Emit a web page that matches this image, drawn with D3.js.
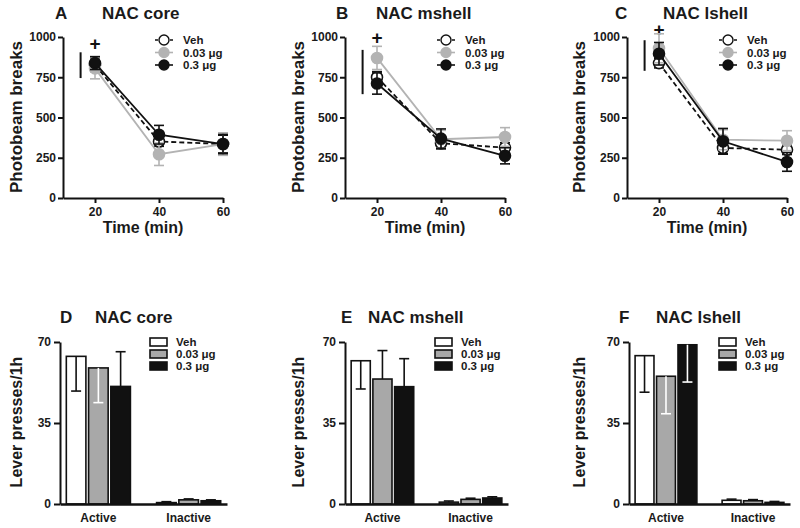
<!DOCTYPE html>
<html><head><meta charset="utf-8">
<script src="https://cdn.jsdelivr.net/npm/d3@7"></script>
<style>
body{margin:0;background:#fff}
text{font-family:"Liberation Sans",Arial,Helvetica,sans-serif;font-weight:bold;fill:#1a1a1a}
</style>
</head><body>
<svg id="c" width="800" height="528"></svg>
<script>
// ---------- data ----------
const doses = ["Veh", "0.03 \u03bcg", "0.3 \u03bcg"];
const times = [20, 40, 60];
const beamTicks = [0, 250, 500, 750, 1000];
const pressTicks = [0, 35, 70];
const leverCats = ["Active", "Inactive"];
const regions = ["NAC core", "NAC mshell", "NAC lshell"];
const topLetters = ["A", "B", "C"];
const bottomLetters = ["D", "E", "F"];

// photobeam breaks, rows = Veh, 0.03, 0.3 ; columns = 20, 40, 60 min
const coreBeam      = [[826, 351, 335], [805, 272, 335], [838, 393, 335]];
const coreBeamSem   = [[40, 30, 55], [65, 70, 70], [40, 58, 60]];
const mshellBeam    = [[750, 340, 313], [870, 365, 379], [711, 369, 262]];
const mshellBeamSem = [[35, 35, 30], [72, 55, 58], [66, 60, 50]];
const lshellBeam    = [[838, 311, 300], [930, 362, 356], [896, 352, 224]];
const lshellBeamSem = [[30, 35, 30], [90, 62, 62], [70, 80, 58]];

// significance marks (vertical bar span and "+" level, in photobeam units)
const sigSpan = [[745, 905], [645, 920], [790, 980]];
const plusLevel = [960, 1000, 1045];

// lever presses/1h, rows = Active, Inactive ; columns = Veh, 0.03, 0.3
const corePress      = [[63.8, 58.8, 50.8], [0.6, 1.8, 1.4]];
const corePressSem   = [[15, 15, 15], [0.4, 0.4, 0.4]];
const corePressDir   = [[-1, -1, 1], [1, 1, 1]];
const mshellPress    = [[61.9, 54.0, 50.7], [0.8, 2.0, 2.6]];
const mshellPressSem = [[12.2, 12.3, 12.1], [0.5, 0.5, 0.5]];
const mshellPressDir = [[-1, 1, 1], [1, 1, 1]];
const lshellPress    = [[64.1, 55.2, 68.8], [1.6, 1.4, 0.7]];
const lshellPressSem = [[15.8, 16.2, 16.1], [0.5, 0.5, 0.4]];
const lshellPressDir = [[-1, -1, -1], [1, 1, 1]];

const beamData = [coreBeam, mshellBeam, lshellBeam];
const beamSem = [coreBeamSem, mshellBeamSem, lshellBeamSem];
const pressData = [corePress, mshellPress, lshellPress];
const pressSem = [corePressSem, mshellPressSem, lshellPressSem];
const pressDir = [corePressDir, mshellPressDir, lshellPressDir];

// ---------- styles ----------
const lineColor = ["#111", "#b3b3b3", "#111"];
const markFill = ["#fff", "#b3b3b3", "#111"];
const barFill = ["#fff", "#a8a8a8", "#111"];

const svg = d3.select("#c");

function styleAxis(a, w) {
  a.selectAll("path.domain").attr("stroke", "#111").attr("stroke-width", w);
  a.selectAll(".tick line").attr("stroke", "#111").attr("stroke-width", w);
  a.selectAll(".tick text").style("font-size", "12px").style("font-family", '"Liberation Sans",Arial,sans-serif')
    .style("font-weight", "bold").attr("fill", "#1a1a1a");
}

// ---------- top row: line charts ----------
const topLayout = [
  {x0: 63, letterX: 55, titleX: 102, yLab: 16},
  {x0: 345, letterX: 336, titleX: 376, yLab: 298},
  {x0: 627, letterX: 615, titleX: 663, yLab: 579}
];

topLayout.forEach((L, p) => {
  const g = svg.append("g");
  const x = d3.scaleLinear().domain([10, 60]).range([L.x0, L.x0 + 160]);
  const y = d3.scaleLinear().domain([0, 1000]).range([198, 37]);

  const ya = g.append("g").attr("transform", `translate(${L.x0},0)`)
    .call(d3.axisLeft(y).tickValues(beamTicks).tickFormat(d3.format("d")).tickSize(5).tickSizeOuter(0).tickPadding(2));
  styleAxis(ya, 2);
  const xa = g.append("g").attr("transform", `translate(0,198)`)
    .call(d3.axisBottom(x).tickValues(times).tickSize(5).tickSizeOuter(0).tickPadding(4));
  styleAxis(xa, 2);

  // titles
  g.append("text").attr("x", L.letterX).attr("y", 19).style("font-size", "17px").text(topLetters[p]);
  g.append("text").attr("x", L.titleX).attr("y", 19).style("font-size", "17px").text(regions[p]);
  g.append("text").attr("transform", `translate(${L.yLab + 6},${117}) rotate(-90)`)
    .attr("text-anchor", "middle").style("font-size", "17px").text("Photobeam breaks");
  g.append("text").attr("x", L.x0 + 80).attr("y", 233).attr("text-anchor", "middle")
    .style("font-size", "16px").text("Time (min)");

  // significance marks
  g.append("line").attr("x1", x(15.5)).attr("x2", x(15.5))
    .attr("y1", y(sigSpan[p][0])).attr("y2", y(sigSpan[p][1]))
    .attr("stroke", "#111").attr("stroke-width", 2);
  g.append("text").attr("x", x(20)).attr("y", y(plusLevel[p])).attr("text-anchor", "middle")
    .attr("dominant-baseline", "central").attr("fill", "#111").style("fill", "#111")
    .style("font-size", "19px").text("+");

  // series
  const line = d3.line().x((d, i) => x(times[i])).y(d => y(d));
  beamData[p].forEach((vals, s) => {
    const sg = g.append("g");
    const sem = beamSem[p][s];
    vals.forEach((v, i) => {
      const cx = x(times[i]);
      sg.append("line").attr("x1", cx).attr("x2", cx).attr("y1", y(v - sem[i])).attr("y2", y(v + sem[i]))
        .attr("stroke", lineColor[s]).attr("stroke-width", 1.6);
      [v - sem[i], v + sem[i]].forEach(e => {
        sg.append("line").attr("x1", cx - 5).attr("x2", cx + 5).attr("y1", y(e)).attr("y2", y(e))
          .attr("stroke", lineColor[s]).attr("stroke-width", 1.6);
      });
    });
    sg.append("path").attr("d", line(vals)).attr("fill", "none").attr("stroke", lineColor[s])
      .attr("stroke-width", 1.8).attr("stroke-dasharray", s === 0 ? "5,3" : null);
    vals.forEach((v, i) => {
      sg.append("circle").attr("cx", x(times[i])).attr("cy", y(v)).attr("r", 5.5)
        .attr("fill", markFill[s]).attr("stroke", lineColor[s]).attr("stroke-width", 1.6);
    });
  });

  // legend
  doses.forEach((d, s) => {
    const ly = 40 + s * 12.5;
    const lx = L.x0 + 92;
    g.append("line").attr("x1", lx).attr("x2", lx + 18).attr("y1", ly).attr("y2", ly)
      .attr("stroke", lineColor[s]).attr("stroke-width", 1.6).attr("stroke-dasharray", s === 0 ? "3,2" : null);
    g.append("circle").attr("cx", lx + 9).attr("cy", ly).attr("r", 5)
      .attr("fill", markFill[s]).attr("stroke", lineColor[s]).attr("stroke-width", 1.4);
    g.append("text").attr("x", lx + 28).attr("y", ly).attr("dominant-baseline", "central")
      .style("font-size", "11.5px").text(d);
  });
});

// ---------- bottom row: bar charts ----------
const botLayout = [
  {x0: 60, x1: 227, letterX: 60, titleX: 95, yLab: 16},
  {x0: 345, x1: 508, letterX: 341, titleX: 368, yLab: 298},
  {x0: 629, x1: 790, letterX: 619, titleX: 656, yLab: 579}
];

botLayout.forEach((L, p) => {
  const g = svg.append("g");
  const y = d3.scaleLinear().domain([0, 70]).range([504, 342]);
  const x = d3.scaleBand().domain(leverCats).range([L.x0, L.x1]).paddingInner(0.29).paddingOuter(0.07);
  const xs = d3.scaleBand().domain([0, 1, 2]).range([0, x.bandwidth()]).paddingInner(0.12);

  // bars
  pressData[p].forEach((vals, c) => {
    vals.forEach((v, s) => {
      const bx = x(leverCats[c]) + xs(s);
      const bw = xs.bandwidth();
      g.append("rect").attr("x", bx).attr("y", y(v)).attr("width", bw).attr("height", y(0) - y(v))
        .attr("fill", barFill[s]).attr("stroke", "#111").attr("stroke-width", 1.6);
      const dir = pressDir[p][c][s];
      const e = v + dir * pressSem[p][c][s];
      const col = dir < 0 && s > 0 ? "#fff" : "#111";
      const cx = bx + bw / 2;
      g.append("line").attr("x1", cx).attr("x2", cx).attr("y1", y(v)).attr("y2", y(e))
        .attr("stroke", col).attr("stroke-width", 1.6);
      g.append("line").attr("x1", cx - 5).attr("x2", cx + 5).attr("y1", y(e)).attr("y2", y(e))
        .attr("stroke", col).attr("stroke-width", 1.6);
    });
  });

  const ya = g.append("g").attr("transform", `translate(${L.x0},0)`)
    .call(d3.axisLeft(y).tickValues(pressTicks).tickSize(6).tickSizeOuter(0).tickPadding(3));
  styleAxis(ya, 2);
  const xa = g.append("g").attr("transform", `translate(0,504)`)
    .call(d3.axisBottom(x).tickSize(0).tickSizeOuter(0).tickPadding(9));
  styleAxis(xa, 2.5);

  g.append("text").attr("x", L.letterX).attr("y", 323).style("font-size", "17px").text(bottomLetters[p]);
  g.append("text").attr("x", L.titleX).attr("y", 323).style("font-size", "17px").text(regions[p]);
  g.append("text").attr("transform", `translate(${L.yLab + 6},${422}) rotate(-90)`)
    .attr("text-anchor", "middle").style("font-size", "16px").text("Lever presses/1h");

  // legend
  doses.forEach((d, s) => {
    const ly = 342 + s * 12;
    const lx = L.x0 + 90;
    g.append("rect").attr("x", lx).attr("y", ly - 4).attr("width", 17).attr("height", 8)
      .attr("fill", barFill[s]).attr("stroke", "#111").attr("stroke-width", 1.6);
    g.append("text").attr("x", lx + 26).attr("y", ly).attr("dominant-baseline", "central")
      .style("font-size", "11.5px").text(d);
  });
});
</script>
</body></html>
